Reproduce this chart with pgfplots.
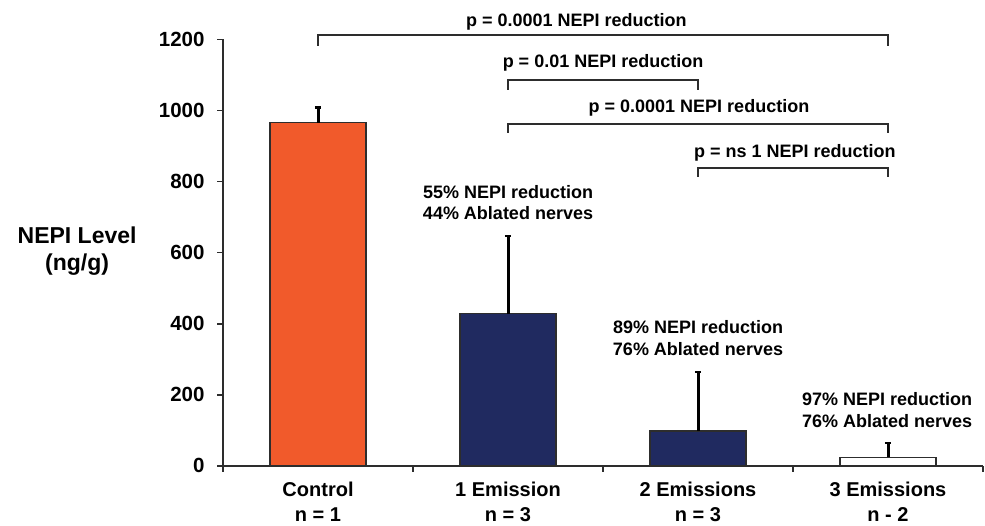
\documentclass[border=0pt]{standalone}
\usepackage{fontspec}
\setmainfont{Liberation Sans}
\usepackage{pgfplots}
\pgfplotsset{compat=1.18}
\definecolor{cOrange}{RGB}{241,90,43}
\definecolor{cNavy}{RGB}{32,42,96}
\definecolor{cAx}{RGB}{45,45,45}
\pgfplotsset{errstyle/.style={error bars/.cd, y dir=plus, y explicit, error mark=-,
  error bar style={line width=3pt, black},
  error mark options={rotate=90, line width=2.4pt, mark size=3.2pt, black}}}
\begin{document}
\begin{tikzpicture}
\begin{axis}[
  scale only axis, width=760pt, height=426.5pt,
  xmin=-0.5, xmax=3.5, ymin=0, ymax=1200,
  axis x line*=bottom, axis y line*=left,
  axis line style={cAx, line width=1.6pt},
  tick align=outside,
  tick style={cAx, line width=1.6pt},
  major tick length=6pt,
  xtick={-0.5,0.5,1.5,2.5,3.5}, xticklabels={},
  extra x ticks={0,1,2,3},
  extra x tick labels={{Control\\n = 1},{1 Emission\\n = 3},{2 Emissions\\n = 3},{3 Emissions\\n - 2}},
  extra x tick style={major tick length=0pt,
     xticklabel style={align=center, yshift=-13pt, font=\fontsize{20}{25}\selectfont\bfseries}},
  ytick={0,200,...,1200},
  yticklabel style={xshift=-9pt, font=\fontsize{20.5}{23}\selectfont\bfseries, /pgf/number format/1000 sep={}},
  /pgf/number format/assume math mode=true,
  clip=false,
]
\addplot[ybar, bar width=96pt, bar shift=0pt, fill=cOrange, draw=cAx, line width=1.2pt, errstyle]
  coordinates {(0,966) +- (0,43)};
\addplot[ybar, bar width=96pt, bar shift=0pt, fill=cNavy, draw=cAx, line width=1.2pt, errstyle]
  coordinates {(1,428) +- (0,219) (2,98) +- (0,167)};
\addplot[ybar, bar width=96pt, bar shift=0pt, fill=white, draw=cAx, line width=1.2pt, errstyle]
  coordinates {(3,24.5) +- (0,39.5)};
% significance brackets
\addplot[mark=none, cAx, line width=1.8pt] coordinates {(0,1182) (0,1213) (3,1213) (3,1182)};
\addplot[mark=none, cAx, line width=1.8pt] coordinates {(1,1059) (1,1086) (2,1086) (2,1059)};
\addplot[mark=none, cAx, line width=1.8pt] coordinates {(1,937) (1,962) (3,962) (3,937)};
\addplot[mark=none, cAx, line width=1.8pt] coordinates {(2,813) (2,838) (3,838) (3,813)};
\begin{scope}[every node/.style={font=\fontsize{18}{21.5}\selectfont\bfseries, align=center, inner sep=0pt}]
\node at (axis cs:1.36,1250) {p = 0.0001 NEPI reduction};
\node at (axis cs:1.5,1134) {p = 0.01 NEPI reduction};
\node at (axis cs:2.005,1007) {p = 0.0001 NEPI reduction};
\node at (axis cs:2.51,881) {p = ns 1 NEPI reduction};
\node at (axis cs:1.0,741) {55\% NEPI reduction\\44\% Ablated nerves};
\node at (axis cs:2.0,360) {89\% NEPI reduction\\76\% Ablated nerves};
\node at (axis cs:2.995,157) {97\% NEPI reduction\\76\% Ablated nerves};
\end{scope}
\node[font=\fontsize{23}{27}\selectfont\bfseries, align=center, inner sep=0pt] at (axis cs:-1.268,604) {NEPI Level\\(ng/g)};
\coordinate (bl) at (axis cs:-1.674,-169);
\coordinate (tr) at (axis cs:3.5105,1311);
\end{axis}
\pgfresetboundingbox
\useasboundingbox (bl) rectangle (tr);
\end{tikzpicture}
\end{document}
